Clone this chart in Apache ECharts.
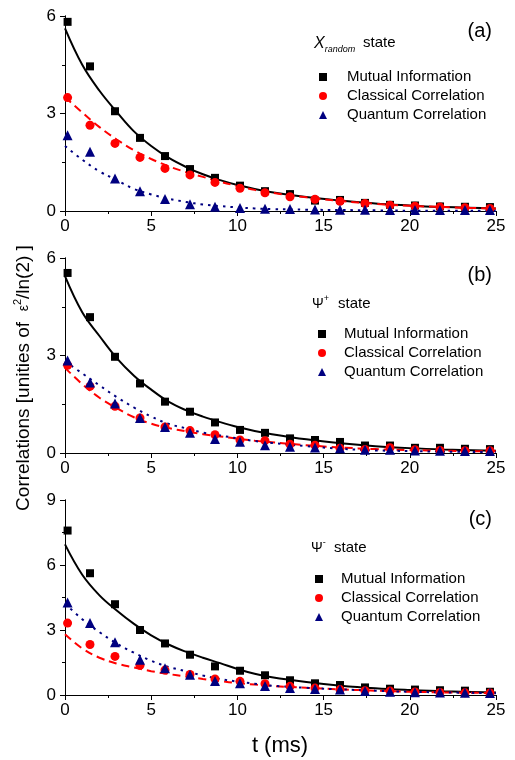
<!DOCTYPE html>
<html lang="en">
<head>
    <meta charset="UTF-8" />
    <title>Correlations decay</title>
    <script src="https://cdn.jsdelivr.net/npm/echarts@6/dist/echarts.min.js"></script>
    <style>
        html, body { margin: 0; padding: 0; background: #fff; }
        #main { width: 515px; height: 760px; }
    </style>
</head>
<body>
    <div id="main"></div>
    <script>
        // measured times (ms)
        var tPts = [0.15, 1.45, 2.9, 4.35, 5.8, 7.25, 8.7, 10.15, 11.6, 13.05, 14.5, 15.95, 17.4, 18.85, 20.3, 21.75, 23.2, 24.65];
        var tFit = [0, 1, 2, 3, 4, 5, 6, 7, 8, 9, 10, 11, 12, 14, 16, 18, 20, 22, 25];

        // (a) X random state
        var miA = [5.82, 4.45, 3.07, 2.25, 1.69, 1.29, 1.02, 0.78, 0.61, 0.52, 0.32, 0.34, 0.25, 0.19, 0.17, 0.14, 0.13, 0.12];
        var ccA = [3.49, 2.64, 2.08, 1.65, 1.31, 1.11, 0.88, 0.70, 0.56, 0.44, 0.36, 0.30, 0.23, 0.18, 0.15, 0.12, 0.10, 0.08];
        var qcA = [2.33, 1.82, 1.00, 0.61, 0.37, 0.21, 0.13, 0.09, 0.07, 0.06, 0.05, 0.04, 0.04, 0.03, 0.03, 0.03, 0.03, 0.03];
        var miFitA = [5.62, 4.5, 3.7, 3.05, 2.45, 2.0, 1.64, 1.36, 1.13, 0.95, 0.80, 0.68, 0.58, 0.43, 0.32, 0.23, 0.17, 0.12, 0.08];
        var ccFitA = [3.5, 3.03, 2.58, 2.2, 1.87, 1.6, 1.38, 1.2, 1.05, 0.9, 0.77, 0.65, 0.56, 0.42, 0.31, 0.22, 0.16, 0.12, 0.07];
        var qcFitA = [2.0, 1.58, 1.22, 0.95, 0.68, 0.51, 0.38, 0.28, 0.2, 0.15, 0.11, 0.08, 0.06, 0.04, 0.03, 0.02, 0.01, 0.01, 0.01];

        // (b) Psi+ state
        var miB = [5.54, 4.18, 2.96, 2.14, 1.58, 1.27, 0.94, 0.71, 0.62, 0.45, 0.40, 0.34, 0.23, 0.23, 0.16, 0.16, 0.13, 0.12];
        var ccB = [2.70, 2.05, 1.44, 1.08, 0.80, 0.69, 0.56, 0.40, 0.38, 0.27, 0.24, 0.15, 0.11, 0.16, 0.10, 0.08, 0.07, 0.07];
        var qcB = [2.85, 2.17, 1.52, 1.08, 0.80, 0.62, 0.43, 0.35, 0.24, 0.19, 0.17, 0.15, 0.10, 0.10, 0.08, 0.07, 0.06, 0.06];
        var miFitB = [5.44, 4.33, 3.6, 2.92, 2.38, 1.95, 1.58, 1.32, 1.12, 0.95, 0.8, 0.68, 0.58, 0.42, 0.3, 0.21, 0.15, 0.11, 0.07];
        var ccFitB = [2.62, 2.12, 1.7, 1.38, 1.1, 0.9, 0.77, 0.67, 0.58, 0.51, 0.44, 0.38, 0.33, 0.24, 0.17, 0.12, 0.09, 0.07, 0.05];
        var qcFitB = [2.82, 2.45, 2.08, 1.72, 1.4, 1.12, 0.9, 0.76, 0.63, 0.54, 0.45, 0.37, 0.31, 0.21, 0.13, 0.08, 0.06, 0.04, 0.03];

        // (c) Psi- state
        var miC = [7.59, 5.62, 4.19, 3.00, 2.38, 1.86, 1.32, 1.12, 0.91, 0.68, 0.54, 0.46, 0.35, 0.29, 0.25, 0.22, 0.20, 0.15];
        var ccC = [3.32, 2.33, 1.78, 1.37, 1.15, 0.95, 0.74, 0.63, 0.52, 0.40, 0.32, 0.25, 0.20, 0.18, 0.14, 0.12, 0.10, 0.09];
        var qcC = [4.27, 3.32, 2.43, 1.63, 1.24, 0.94, 0.65, 0.54, 0.41, 0.32, 0.28, 0.25, 0.18, 0.15, 0.13, 0.11, 0.10, 0.09];
        var miFitC = [6.95, 5.55, 4.6, 3.9, 3.28, 2.75, 2.33, 2.0, 1.72, 1.47, 1.2, 0.98, 0.82, 0.6, 0.43, 0.31, 0.23, 0.17, 0.12];
        var ccFitC = [2.8, 2.15, 1.72, 1.45, 1.27, 1.1, 0.97, 0.85, 0.74, 0.64, 0.55, 0.48, 0.42, 0.33, 0.26, 0.2, 0.15, 0.12, 0.09];
        var qcFitC = [4.22, 3.5, 2.9, 2.38, 1.95, 1.58, 1.3, 1.1, 0.9, 0.74, 0.62, 0.52, 0.43, 0.33, 0.26, 0.2, 0.15, 0.12, 0.08];

        var yMaxes = [6, 6, 9];
        var legendNames = ["Mutual Information", "Classical Correlation", "Quantum Correlation"];

        var black = "#000000", red = "#ff0000", navy = "#000080";
        var font = "Liberation Sans, Arial, sans-serif";

        function pairs(xs, ys) {
            return xs.map(function (x, i) { return [x, ys[i]]; });
        }

        var panels = [
            { top: 16, pts: [miA, ccA, qcA], fits: [miFitA, ccFitA, qcFitA] },
            { top: 258, pts: [miB, ccB, qcB], fits: [miFitB, ccFitB, qcFitB] },
            { top: 500, pts: [miC, ccC, qcC], fits: [miFitC, ccFitC, qcFitC] },
        ];

        var grids = [], xAxes = [], yAxes = [], series = [], legends = [];
        var symbols = ["rect", "circle", "triangle"];
        var sizes = [8, 9, 10];
        var colors = [black, red, navy];
        var lineTypes = ["solid", [8, 5], [2.5, 5]];

        panels.forEach(function (p, i) {
            grids.push({ left: 65, width: 431, top: p.top, height: 195 });
            var xBase = {
                gridIndex: i, type: "value", min: 0, max: 25, interval: 5,
                axisLine: { show: true, lineStyle: { color: black, width: 1 } },
                splitLine: { show: false },
                minorTick: { show: true, splitNumber: 2, length: 3, lineStyle: { color: black } },
                axisTick: { length: 5, lineStyle: { color: black } },
            };
            xAxes.push(Object.assign({}, xBase, {
                position: "bottom",
                axisLabel: { color: black, fontSize: 17, fontFamily: font, margin: 7 },
            }));
            xAxes.push(Object.assign({}, xBase, {
                position: "top",
                axisLabel: { show: false },
                axisTick: { inside: true, length: 5, lineStyle: { color: black } },
            }));
            var yBase = {
                gridIndex: i, type: "value", min: 0, max: yMaxes[i], interval: 3,
                axisLine: { show: true, lineStyle: { color: black, width: 1 } },
                splitLine: { show: false },
                minorTick: { show: true, splitNumber: 2, length: 3, lineStyle: { color: black } },
                axisTick: { length: 5, lineStyle: { color: black } },
            };
            yAxes.push(Object.assign({}, yBase, {
                position: "left",
                axisLabel: { color: black, fontSize: 17, fontFamily: font, margin: 9 },
            }));
            yAxes.push(Object.assign({}, yBase, {
                position: "right",
                axisLabel: { show: false },
                axisTick: { inside: true, length: 5, lineStyle: { color: black } },
            }));

            for (var k = 0; k < 3; k++) {
                series.push({
                    name: "fit" + i + "_" + k,
                    type: "line",
                    xAxisIndex: 2 * i, yAxisIndex: 2 * i,
                    data: pairs(tFit, p.fits[k]),
                    showSymbol: false,
                    smooth: 0.4,
                    lineStyle: { color: colors[k], width: 2, type: lineTypes[k] },
                    z: 2,
                    silent: true,
                });
                series.push({
                    name: legendNames[k],
                    type: "scatter",
                    xAxisIndex: 2 * i, yAxisIndex: 2 * i,
                    data: pairs(tPts, p.pts[k]),
                    symbol: symbols[k],
                    symbolSize: sizes[k],
                    itemStyle: { color: colors[k], opacity: 1 },
                    z: 3,
                });
            }
        });

        // icon centre x, first row centre y, text start x
        var legendPos = [[318, 72, 342], [317, 329, 339], [314, 574, 336]];
        legendPos.forEach(function (lp) {
            legends.push({
                data: legendNames,
                orient: "vertical",
                left: lp[0] - 4,
                top: lp[1] - 8,
                itemWidth: 8,
                itemHeight: 8,
                itemGap: 3,
                selectedMode: false,
                itemStyle: { opacity: 1 },
                textStyle: {
                    color: black, fontSize: 15, fontFamily: font, lineHeight: 16,
                    padding: [0, 0, 0, lp[2] - (lp[0] + 4) - 5],
                },
            });
        });

        var textBase = { fill: black, fontFamily: font, verticalAlign: "middle" };
        function label(x, y, text, size, align, rich) {
            return {
                type: "text", x: x, y: y,
                style: Object.assign({}, textBase, { text: text, fontSize: size, align: align, rich: rich }),
            };
        }
        var supRich = { s: { fontSize: 9, fontFamily: font, lineHeight: 20, verticalAlign: "top" } };

        var graphics = [
            label(492, 31, "(a)", 20, "right"),
            label(492, 275, "(b)", 20, "right"),
            label(492, 519, "(c)", 20, "right"),
            label(314, 44, "{x|X}{s|random}", 14, "left", {
                x: { fontSize: 16, fontStyle: "italic", fontFamily: font, lineHeight: 20, verticalAlign: "middle" },
                s: { fontSize: 9, fontStyle: "italic", fontFamily: font, lineHeight: 20, verticalAlign: "bottom" },
            }),
            label(363, 43, "state", 15, "left"),
            label(312, 304, "Ψ{s|+}", 14, "left", supRich),
            label(338, 304, "state", 15, "left"),
            label(311, 548, "Ψ{s|-}", 14, "left", supRich),
            label(334, 548, "state", 15, "left"),
            label(280, 746, "t (ms)", 22, "center"),
            {
                type: "text", x: 24, y: 378, rotation: Math.PI / 2,
                style: Object.assign({}, textBase, {
                    text: "Correlations [unities of  {e|ε}{s|2}/ln(2) ]",
                    fontSize: 19, align: "center",
                    rich: {
                        e: { fontSize: 14, fontFamily: font, lineHeight: 24, verticalAlign: "middle" },
                        s: { fontSize: 11, fontFamily: font, lineHeight: 24, verticalAlign: "top" },
                    },
                }),
            },
        ];

        var chart = echarts.init(document.getElementById("main"));
        chart.setOption({
            animation: false,
            grid: grids,
            xAxis: xAxes,
            yAxis: yAxes,
            legend: legends,
            series: series,
            graphic: graphics,
        });
    </script>
</body>
</html>
